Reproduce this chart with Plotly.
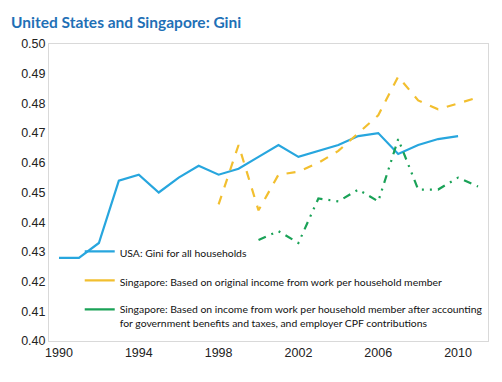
import plotly.graph_objects as go

years = list(range(1990, 2012))
usa = [0.428, 0.428, 0.433, 0.454, 0.456, 0.450, 0.455, 0.459, 0.456, 0.458,
       0.462, 0.466, 0.462, 0.464, 0.466, 0.469, 0.470, 0.463, 0.466, 0.468, 0.469, None]
sg_orig = [None]*8 + [0.446, 0.466, 0.444, 0.456, 0.457, 0.460, 0.464, 0.470,
                      0.476, 0.489, 0.481, 0.478, 0.480, 0.482]
sg_after = [None]*10 + [0.434, 0.437, 0.433, 0.448, 0.447, 0.451, 0.447, 0.468,
                        0.451, 0.451, 0.455, 0.452]

names = ["USA: Gini for all households",
         "Singapore: Based on original income from work per household member",
         "Singapore: Based on income from work per household member after accounting<br>for government benefits and taxes, and employer CPF contributions"]
colors = ["#27A6DE", "#F2BF2F", "#1AA257"]
dashes = ["solid", "dash", "8px,6px,2px,6px,2px,6px"]
series = [usa, sg_orig, sg_after]

fig = go.Figure()
for s, c, d in zip(series, colors, dashes):
    fig.add_trace(go.Scatter(x=years, y=s, mode="lines", showlegend=False,
                             line=dict(color=c, width=2.2, dash=d)))
for i, (n, c) in enumerate(zip(names, colors)):
    fig.add_trace(go.Scatter(x=[None], y=[None], mode="lines", name=n,
                             legendgroup=str(i),
                             line=dict(color=c, width=2.2)))

axis_common = dict(showline=True, linecolor="#D9D9D9", linewidth=1, mirror=True,
                   showgrid=False, zeroline=False, ticks="",
                   tickfont=dict(family="Liberation Sans", size=12.5, color="#222"))
fig.update_xaxes(range=[1989.5, 2011.5], tickvals=[1990, 1994, 1998, 2002, 2006, 2010],
                 **axis_common)
fig.update_yaxes(range=[0.40, 0.50], dtick=0.01, tickformat=".2f", **axis_common)

fig.update_layout(
    width=502, height=382,
    margin=dict(l=41, r=22, t=36, b=49),
    plot_bgcolor="white", paper_bgcolor="white",
    title=dict(text="<b>United States and Singapore: Gini</b>", x=0.006, xanchor="left",
               y=0.962, yanchor="middle",
               font=dict(family="Lato", size=15.5, color="#1F70B6")),
    legend=dict(x=0.07, y=0.013, xanchor="left", yanchor="bottom", valign="top",
                bgcolor="rgba(0,0,0,0)", tracegroupgap=10, itemwidth=30,
                font=dict(family="Lato", size=10.4, color="#111")),
)
fig.write_html("out.html")
